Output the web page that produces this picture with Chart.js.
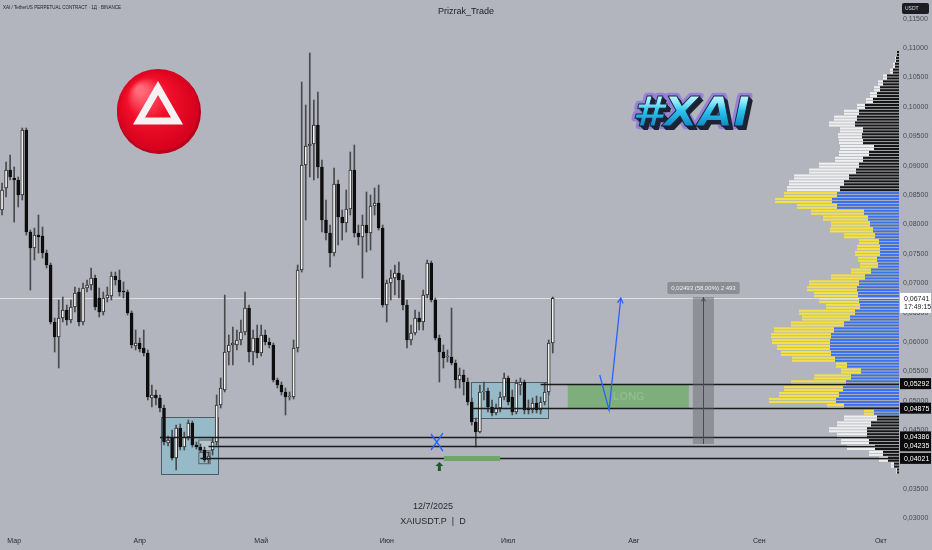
<!DOCTYPE html>
<html>
<head>
<meta charset="utf-8">
<script src="https://cdn.jsdelivr.net/npm/chart.js@4.4.1/dist/chart.umd.min.js"></script>
<style>
  html, body { margin: 0; padding: 0; background: #b2b5be; }
  #wrap { position: relative; width: 932px; height: 550px; }
</style>
</head>
<body>
<div id="wrap"><canvas id="chart" width="932" height="550"></canvas></div>
<script>
// daily candles XAI/USDT, 26 Feb -> 12 Jul 2025
const opens = [
  0.08245,0.08619,0.08925,0.08789,0.08755,0.08500,0.09605,0.07870,0.07598,0.07819,
  0.07802,0.07513,0.07309,0.06340,0.06085,0.06408,0.06544,0.06374,0.06595,0.06850,
  0.06340,0.06918,0.06969,0.07088,0.06748,0.06510,0.06748,0.06782,0.07122,0.07054,
  0.06867,0.06850,0.06493,0.05932,0.05983,0.05898,0.05813,0.05048,0.05099,0.05048,
  0.04878,0.04282,0.04367,0.04027,0.04537,0.04214,0.04384,0.04622,0.04248,0.04214,
  0.04163,0.03993,0.04163,0.04299,0.04929,0.05184,0.05830,0.05949,0.05949,0.06034,
  0.06170,0.06578,0.05830,0.06068,0.05813,0.06119,0.06000,0.05949,0.05354,0.05269,
  0.05150,0.05065,0.05065,0.05898,0.07224,0.09010,0.09333,0.09367,0.09690,0.08976,
  0.08075,0.07853,0.07513,0.08687,0.08126,0.08023,0.08262,0.08925,0.07853,0.07785,
  0.07989,0.07853,0.08313,0.08364,0.07938,0.06629,0.07003,0.07088,0.07173,0.07054,
  0.06629,0.06034,0.06153,0.06408,0.06340,0.06799,0.07343,0.06714,0.06068,0.05830,
  0.05745,0.05745,0.05643,0.05354,0.05439,0.05320,0.04980,0.04639,0.04469,0.05150,
  0.05167,0.04895,0.04793,0.04878,0.05065,0.05388,0.05065,0.04810,0.05269,0.05320,
  0.04878,0.04844,0.04963,0.04844,0.04980,0.05150,0.05983
];
const closes = [
  0.08585,0.08925,0.08806,0.08755,0.08500,0.09605,0.07870,0.07598,0.07819,0.07785,
  0.07513,0.07309,0.06340,0.06085,0.06408,0.06544,0.06374,0.06595,0.06833,0.06340,
  0.06918,0.06969,0.07088,0.06595,0.06510,0.06748,0.06799,0.07122,0.07054,0.06850,
  0.06850,0.06493,0.05949,0.05983,0.05881,0.05813,0.05065,0.05099,0.05048,0.04878,
  0.04299,0.04333,0.04027,0.04537,0.04214,0.04384,0.04622,0.04248,0.04214,0.04163,
  0.03993,0.04061,0.04299,0.04929,0.05218,0.05830,0.05949,0.05983,0.06034,0.06170,
  0.06578,0.05830,0.06068,0.05813,0.06119,0.06000,0.05949,0.05354,0.05269,0.05150,
  0.05065,0.05082,0.05898,0.07224,0.09010,0.09333,0.09367,0.09690,0.08976,0.08075,
  0.07853,0.07513,0.08687,0.08126,0.08023,0.08262,0.08925,0.07853,0.07785,0.07989,
  0.07853,0.08313,0.08364,0.07938,0.06629,0.07003,0.07088,0.07173,0.07054,0.06629,
  0.06034,0.06153,0.06408,0.06340,0.06799,0.07343,0.06714,0.06068,0.05830,0.05728,
  0.05762,0.05643,0.05354,0.05439,0.05320,0.04980,0.04639,0.04469,0.05150,0.05167,
  0.04895,0.04793,0.04878,0.05065,0.05388,0.04980,0.04810,0.05303,0.05320,0.04844,
  0.04844,0.04963,0.04844,0.04980,0.05150,0.05983,0.06741
];
const highs = [
  0.08704,0.09061,0.09180,0.08976,0.08806,0.09639,0.09639,0.07904,0.07938,0.08160,
  0.07955,0.07564,0.07343,0.06408,0.06714,0.06765,0.06629,0.06714,0.06935,0.06918,
  0.07003,0.07054,0.07258,0.07139,0.06918,0.06850,0.06935,0.07190,0.07190,0.07224,
  0.07020,0.06884,0.06527,0.06204,0.06068,0.06204,0.05864,0.05269,0.05184,0.05099,
  0.04929,0.04401,0.04503,0.04588,0.04605,0.04469,0.04673,0.04656,0.04299,0.04265,
  0.04214,0.04129,0.04367,0.05100,0.05388,0.06799,0.06119,0.06255,0.06204,0.06374,
  0.06850,0.06629,0.06204,0.06289,0.06289,0.06204,0.06068,0.05983,0.05388,0.05320,
  0.05218,0.05150,0.06034,0.07309,0.10421,0.10030,0.10915,0.10115,0.10251,0.09095,
  0.08415,0.07989,0.08959,0.08755,0.08245,0.08585,0.09231,0.09350,0.07989,0.08160,
  0.08551,0.08500,0.08619,0.08670,0.07989,0.07054,0.07224,0.07309,0.07360,0.07139,
  0.06714,0.06289,0.06544,0.06510,0.06884,0.07394,0.07377,0.06748,0.06119,0.05949,
  0.05864,0.06578,0.05694,0.05558,0.05524,0.05388,0.05048,0.04708,0.05269,0.05320,
  0.05218,0.05014,0.04946,0.05150,0.05473,0.05422,0.05184,0.05354,0.05388,0.05354,
  0.05014,0.05048,0.05082,0.05065,0.05303,0.06034,0.06765
];
const lows = [
  0.08160,0.08466,0.08755,0.08040,0.08296,0.08415,0.07819,0.06884,0.07394,0.07513,
  0.07428,0.07258,0.06306,0.05830,0.05558,0.06340,0.06289,0.06323,0.06510,0.06272,
  0.06289,0.06850,0.06884,0.06544,0.06425,0.06459,0.06680,0.06714,0.06969,0.06782,
  0.06748,0.06459,0.05898,0.05864,0.05830,0.05762,0.05014,0.04895,0.04929,0.04810,
  0.04248,0.04231,0.03993,0.03823,0.04163,0.04163,0.04333,0.04214,0.04180,0.04129,
  0.03959,0.03942,0.04078,0.04248,0.04878,0.05150,0.05609,0.05609,0.05864,0.05949,
  0.06119,0.05660,0.05609,0.05728,0.05762,0.05949,0.05898,0.05320,0.05218,0.05099,
  0.04759,0.05014,0.05031,0.05830,0.07190,0.08075,0.08806,0.08755,0.08789,0.07870,
  0.07734,0.07275,0.07462,0.07649,0.07734,0.07870,0.08160,0.07785,0.07649,0.07088,
  0.07530,0.07564,0.08160,0.07904,0.06595,0.06340,0.06714,0.06799,0.06748,0.06544,
  0.05898,0.05949,0.06119,0.06204,0.06204,0.06748,0.06680,0.06034,0.05320,0.05558,
  0.05660,0.05609,0.05218,0.05218,0.05099,0.04929,0.04588,0.04214,0.04452,0.05014,
  0.04810,0.04742,0.04759,0.04810,0.05014,0.04929,0.04759,0.04776,0.05099,0.04776,
  0.04776,0.04793,0.04793,0.04776,0.04929,0.05099,0.05813
];

// visible range volume profile (rows of 0.001)
const profilePrices = [
  0.109,0.108,0.107,0.106,0.105,0.104,0.103,0.102,0.101,0.100,
  0.099,0.098,0.097,0.096,0.095,0.094,0.093,0.092,0.091,0.090,
  0.089,0.088,0.087,0.086,0.085,0.084,0.083,0.082,0.081,0.080,
  0.079,0.078,0.077,0.076,0.075,0.074,0.073,0.072,0.071,0.070,
  0.069,0.068,0.067,0.066,0.065,0.064,0.063,0.062,0.061,0.060,
  0.059,0.058,0.057,0.056,0.055,0.054,0.053,0.052,0.051,0.050,
  0.049,0.048,0.047,0.046,0.045,0.044,0.043,0.042,0.041,0.040,
  0.039,0.038
];
const profileUp = [
  2,3,4,6,12,16,19,22,26,34,
  40,42,44,36,37,36,25,30,36,40,
  43,50,55,59,62,67,62,35,31,29,
  26,24,20,19,19,22,21,28,34,40,
  42,41,40,39,44,49,55,65,68,69,
  69,68,64,52,38,48,53,56,60,63,
  55,25,22,28,32,32,30,24,16,11,
  5,2
];
const profileTotal = [
  2,4,6,9,16,21,25,29,33,42,
  55,65,70,59,61,60,59,60,64,80,
  90,105,110,112,115,124,102,88,76,68,
  69,55,40,42,44,41,39,48,68,90,
  92,85,80,73,100,97,108,125,128,127,
  122,118,107,63,58,85,108,115,120,130,
  72,35,55,62,70,62,58,52,30,20,
  8,3
];
const valueArea = [0.0476, 0.0856];

const monthNames = { '03': 'Мар', '04': 'Апр', '05': 'Май', '06': 'Июн', '07': 'Июл', '08': 'Авг', '09': 'Сен', '10': 'Окт' };
const yTicks = [0.030,0.035,0.040,0.045,0.050,0.055,0.060,0.065,0.070,0.075,0.080,0.085,0.090,0.095,0.100,0.105,0.110,0.115];
const lastPrice = 0.06741;

// drawings (x in day index from 26 Feb, y in price)
const levelPrices = [0.05292, 0.04875, 0.04386, 0.04235, 0.04021];
const levelStart = [133, 116, 39, 51, 49];
const rangeBoxes = [
  { from: 39.2, to: 53.3, top: 0.04724, bottom: 0.03755 },
  { from: 115.8, to: 134.8, top: 0.05320, bottom: 0.04707 }
];
const longZone = { from: 139.7, to: 169.6, top: 0.05280, bottom: 0.04870 };
const measure = { from: 170.6, to: 175.8, top: 0.06765, bottom: 0.04265, text: '0,02493 (58,00%) 2 493' };
const targetBar = { from: 109.1, to: 123.0, top: 0.04061, bottom: 0.03976 };
const pathPoints = [[147.6, 0.05439], [149.9, 0.04844], [152.8, 0.06748]];
const crossMark = [107.4, 0.04299];
const upArrow = [108.0, 0.03959];

const days = [];
for (let i = 0; i < 222; i++) {
  days.push(new Date(Date.UTC(2025, 1, 26 + i)).toISOString().slice(0, 10));
}

const upCandle = closes.map((c, i) => c >= opens[i]);
const fmt = v => v.toFixed(5).replace('.', ',');

function arrowHead(ctx, x1, y1, x2, y2, size) {
  const a = Math.atan2(y2 - y1, x2 - x1);
  ctx.beginPath();
  ctx.moveTo(x2 - size * Math.cos(a - 0.5), y2 - size * Math.sin(a - 0.5));
  ctx.lineTo(x2, y2);
  ctx.lineTo(x2 - size * Math.cos(a + 0.5), y2 - size * Math.sin(a + 0.5));
  ctx.stroke();
}

const drawings = {
  id: 'drawings',
  beforeDraw(chart) {
    const ctx = chart.ctx;
    ctx.save();
    ctx.fillStyle = '#b2b5be';
    ctx.fillRect(0, 0, chart.width, chart.height);
    ctx.restore();
  },
  beforeDatasetsDraw(chart) {
    const { ctx, chartArea, scales: { x, y } } = chart;
    ctx.save();
    // volume profile, each row split in two thin stripes
    profilePrices.forEach((p, i) => {
      const top = y.getPixelForValue(p + 0.0005);
      const bot = y.getPixelForValue(p - 0.0005);
      const half = (bot - top) / 2;
      const inVA = p >= valueArea[0] && p <= valueArea[1];
      const r = chartArea.right;
      for (let k = 0; k < 2; k++) {
        const t = top + k * half;
        ctx.fillStyle = inVA ? '#f4e142' : '#efefef';
        ctx.fillRect(r - profileTotal[i], t, profileTotal[i], half - 0.8);
        ctx.fillStyle = inVA ? '#3c70f0' : '#151515';
        ctx.fillRect(r - profileUp[i], t, profileUp[i], half - 0.8);
      }
    });
    // last price line
    const yl = Math.round(y.getPixelForValue(lastPrice)) + 0.5;
    ctx.strokeStyle = 'rgba(232,234,238,0.8)';
    ctx.lineWidth = 1;
    ctx.beginPath(); ctx.moveTo(0, yl); ctx.lineTo(chartArea.right, yl); ctx.stroke();
    // range boxes
    rangeBoxes.forEach(b => {
      const x1 = x.getPixelForValue(b.from), x2 = x.getPixelForValue(b.to);
      const y1 = y.getPixelForValue(b.top), y2 = y.getPixelForValue(b.bottom);
      ctx.fillStyle = 'rgba(118,192,212,0.45)';
      ctx.fillRect(x1, y1, x2 - x1, y2 - y1);
      ctx.strokeStyle = '#4d5d63';
      ctx.strokeRect(Math.round(x1) + 0.5, Math.round(y1) + 0.5, Math.round(x2 - x1), Math.round(y2 - y1));
    });
    // small boxes at the first low
    ctx.fillStyle = 'rgba(205,206,210,0.6)';
    ctx.strokeStyle = '#5a6065';
    const sx1 = x.getPixelForValue(48.6), sx2 = x.getPixelForValue(51.9);
    const sy1 = y.getPixelForValue(0.04333), sy2 = y.getPixelForValue(0.04150);
    ctx.fillRect(sx1, sy1, sx2 - sx1, sy2 - sy1);
    ctx.strokeRect(sx1, sy1, sx2 - sx1, sy2 - sy1);
    const ty1 = y.getPixelForValue(0.04120), ty2 = y.getPixelForValue(0.03930);
    ctx.strokeRect(sx1, ty1, sx2 - sx1 - 2, ty2 - ty1);
    ctx.restore();
  },
  afterDatasetsDraw(chart) {
    const { ctx, chartArea, scales: { x, y } } = chart;
    ctx.save();
    // LONG zone
    {
      const x1 = x.getPixelForValue(longZone.from), x2 = x.getPixelForValue(longZone.to);
      const y1 = y.getPixelForValue(longZone.top), y2 = y.getPixelForValue(longZone.bottom);
      ctx.fillStyle = '#7eae7c';
      ctx.fillRect(x1, y1, x2 - x1, y2 - y1);
      ctx.fillStyle = '#8dbf89';
      ctx.font = 'bold 11px "Liberation Sans", Arial';
      ctx.textAlign = 'center'; ctx.textBaseline = 'middle';
      ctx.fillText('LONG', x1 + 61, (y1 + y2) / 2 + 1);
    }
    // horizontal levels
    ctx.strokeStyle = '#1a1a1a';
    ctx.lineWidth = 1.3;
    levelPrices.forEach((p, i) => {
      const yy = Math.round(y.getPixelForValue(p)) + 0.5;
      ctx.beginPath();
      ctx.moveTo(x.getPixelForValue(levelStart[i]), yy);
      ctx.lineTo(chartArea.right, yy);
      ctx.stroke();
    });
    // target bar & markers
    {
      const x1 = x.getPixelForValue(targetBar.from), x2 = x.getPixelForValue(targetBar.to);
      const y1 = y.getPixelForValue(targetBar.top), y2 = y.getPixelForValue(targetBar.bottom);
      ctx.fillStyle = '#6ea868';
      ctx.fillRect(x1, y1, x2 - x1, y2 - y1);
    }
    {
      const cx = x.getPixelForValue(crossMark[0]), cy = y.getPixelForValue(crossMark[1]);
      ctx.strokeStyle = '#2962ff'; ctx.lineWidth = 1.4;
      ctx.beginPath();
      ctx.moveTo(cx - 6, cy - 8); ctx.quadraticCurveTo(cx, cy, cx + 6, cy + 9);
      ctx.moveTo(cx + 6, cy - 9); ctx.quadraticCurveTo(cx, cy, cx - 6, cy + 8);
      ctx.stroke();
    }
    {
      const ax = x.getPixelForValue(upArrow[0]), ay = y.getPixelForValue(upArrow[1]);
      ctx.fillStyle = '#1f5a2c';
      ctx.beginPath();
      ctx.moveTo(ax, ay); ctx.lineTo(ax + 4, ay + 4); ctx.lineTo(ax + 1.5, ay + 4);
      ctx.lineTo(ax + 1.5, ay + 9); ctx.lineTo(ax - 1.5, ay + 9); ctx.lineTo(ax - 1.5, ay + 4);
      ctx.lineTo(ax - 4, ay + 4); ctx.closePath(); ctx.fill();
    }
    // projected path
    {
      const pts = pathPoints.map(p => [x.getPixelForValue(p[0]), y.getPixelForValue(p[1])]);
      ctx.strokeStyle = '#2962ff'; ctx.lineWidth = 1.3;
      ctx.beginPath();
      ctx.moveTo(pts[0][0], pts[0][1]);
      pts.slice(1).forEach(p => ctx.lineTo(p[0], p[1]));
      ctx.stroke();
      arrowHead(ctx, pts[1][0], pts[1][1], pts[2][0], pts[2][1], 6);
    }
    // measure tool
    {
      const x1 = x.getPixelForValue(measure.from), x2 = x.getPixelForValue(measure.to);
      const y1 = y.getPixelForValue(measure.top), y2 = y.getPixelForValue(measure.bottom);
      ctx.fillStyle = 'rgba(98,99,105,0.45)';
      ctx.fillRect(x1, y1, x2 - x1, y2 - y1);
      const mx = Math.round((x1 + x2) / 2) + 0.5;
      ctx.strokeStyle = '#4a4b50'; ctx.lineWidth = 1;
      ctx.beginPath(); ctx.moveTo(mx, y1); ctx.lineTo(mx, y2); ctx.stroke();
      arrowHead(ctx, mx, y1 + 10, mx, y1 + 1, 4);
      ctx.font = '6px "Liberation Sans", Arial';
      const tw = ctx.measureText(measure.text).width + 8;
      ctx.fillStyle = '#8d8e94';
      ctx.beginPath(); ctx.roundRect(mx - tw / 2, y1 - 15, tw, 12, 2); ctx.fill();
      ctx.fillStyle = '#f0f0f0';
      ctx.textAlign = 'center'; ctx.textBaseline = 'middle';
      ctx.fillText(measure.text, mx, y1 - 9);
    }
    ctx.restore();
  },
  afterDraw(chart) {
    const { ctx, chartArea, scales: { y } } = chart;
    ctx.save();
    // price labels on the axis
    ctx.font = '7px "Liberation Sans", Arial';
    ctx.textBaseline = 'middle'; ctx.textAlign = 'left';
    levelPrices.forEach(p => {
      const yy = y.getPixelForValue(p);
      ctx.fillStyle = '#0b0b0b';
      ctx.fillRect(chartArea.right + 1, yy - 5.5, 31, 11);
      ctx.fillStyle = '#ffffff';
      ctx.fillText(fmt(p), chartArea.right + 5, yy + 0.5);
    });
    {
      const yy = y.getPixelForValue(lastPrice);
      ctx.fillStyle = '#ffffff';
      ctx.fillRect(chartArea.right + 1, yy - 5.5, 31, 20);
      ctx.fillStyle = '#222';
      ctx.fillText(fmt(lastPrice), chartArea.right + 5, yy + 0.5);
      ctx.fillText('17:49:15', chartArea.right + 5, yy + 8.5);
    }
    // currency badge
    ctx.fillStyle = '#1c1d22';
    ctx.beginPath(); ctx.roundRect(902, 3, 27, 11, 2); ctx.fill();
    ctx.fillStyle = '#dddddd'; ctx.font = '5px "Liberation Sans", Arial';
    ctx.fillText('USDT', 905, 8.5);
    // headers
    ctx.fillStyle = '#1e1e22';
    ctx.font = '5.5px "Liberation Sans", Arial';
    {
      const head = 'XAI / TetherUS PERPETUAL CONTRACT · 1Д · BINANCE';
      const hw = ctx.measureText(head).width;
      ctx.save();
      ctx.translate(3, 7);
      ctx.scale(118 / hw, 1);
      ctx.fillText(head, 0, 0);
      ctx.restore();
    }
    ctx.font = '9px "Liberation Sans", Arial';
    ctx.textAlign = 'center';
    ctx.fillText('Prizrak_Trade', 466, 12);
    ctx.fillStyle = '#2a2a2e';
    ctx.font = '9px "Liberation Sans", Arial';
    ctx.fillText('12/7/2025', 433, 507);
    ctx.fillText('XAIUSDT.P  |  D', 433, 522);
    // round logo
    {
      const cx = 158, cy = 110, r = 42;
      ctx.fillStyle = '#b8001a';
      ctx.beginPath(); ctx.arc(cx + 1, cy + 2, r, 0, Math.PI * 2); ctx.fill();
      const g = ctx.createRadialGradient(cx - 18, cy - 20, 4, cx, cy, r);
      g.addColorStop(0, '#ff6b7a');
      g.addColorStop(0.45, '#f2102a');
      g.addColorStop(1, '#d3001d');
      ctx.fillStyle = g;
      ctx.beginPath(); ctx.arc(cx, cy, r - 1, 0, Math.PI * 2); ctx.fill();
      ctx.strokeStyle = '#f5f2f4'; ctx.lineWidth = 7; ctx.lineJoin = 'miter';
      ctx.beginPath();
      ctx.moveTo(cx, cy - 22); ctx.lineTo(cx + 19, cy + 11); ctx.lineTo(cx - 19, cy + 11); ctx.closePath();
      ctx.stroke();
    }
    // #XAI title
    {
      const txt = '#XAI';
      ctx.font = 'italic bold 46px "DejaVu Sans", sans-serif';
      const w = ctx.measureText(txt).width;
      ctx.save();
      ctx.translate(632, 126);
      ctx.scale(118 / w, 0.9);
      ctx.textAlign = 'left'; ctx.textBaseline = 'alphabetic';
      ctx.lineJoin = 'round';
      ctx.strokeStyle = 'rgba(140,112,222,0.75)'; ctx.lineWidth = 7;
      ctx.strokeText(txt, 0, 0);
      ctx.fillStyle = '#1b2434';
      for (let k = 1; k <= 4; k++) ctx.fillText(txt, k, k);
      const g = ctx.createLinearGradient(0, -38, 0, 0);
      g.addColorStop(0, '#dffcff');
      g.addColorStop(0.3, '#8ee9ff');
      g.addColorStop(0.55, '#2cc6ee');
      g.addColorStop(1, '#1188c8');
      ctx.fillStyle = g;
      ctx.fillText(txt, 0, 0);
      ctx.strokeStyle = '#1b2434'; ctx.lineWidth = 1;
      ctx.strokeText(txt, 0, 0);
      ctx.restore();
    }
    ctx.restore();
  }
};

new Chart(document.getElementById('chart'), {
  type: 'bar',
  data: {
    labels: days,
    datasets: [
      {
        label: 'bodies',
        data: opens.map((o, i) => [o, closes[i]]),
        backgroundColor: upCandle.map(u => u ? '#f4f4f4' : '#0e0e0e'),
        borderColor: upCandle.map(u => u ? '#2b2b2b' : '#0e0e0e'),
        borderWidth: 1,
        borderSkipped: false,
        barThickness: 3,
        grouped: false,
        order: 0
      },
      {
        label: 'wicks',
        data: lows.map((l, i) => [l, highs[i]]),
        backgroundColor: '#4a4a4e',
        borderWidth: 0,
        barThickness: 1,
        grouped: false,
        order: 1
      }
    ]
  },
  options: {
    responsive: false,
    animation: false,
    devicePixelRatio: 1,
    layout: { padding: 0 },
    plugins: { legend: { display: false }, tooltip: { enabled: false } },
    scales: {
      x: {
        type: 'category',
        grid: { display: false, drawTicks: false },
        border: { display: false },
        ticks: {
          autoSkip: false,
          maxRotation: 0,
          padding: 5,
          color: '#2a2a2e',
          font: { size: 7, family: '"Liberation Sans", Arial' },
          callback(value) {
            const d = this.getLabelForValue(value);
            return d.endsWith('-01') ? monthNames[d.slice(5, 7)] : '';
          }
        },
        afterFit(s) { s.height = 18; s.paddingLeft = 0; s.paddingRight = 0; }
      },
      y: {
        position: 'right',
        min: 0.02769,
        max: 0.11816,
        grid: { display: false, drawTicks: false },
        border: { display: false },
        ticks: {
          padding: 4,
          color: '#4a4a50',
          font: { size: 7, family: '"Liberation Sans", Arial' },
          callback: v => fmt(v)
        },
        afterBuildTicks(s) { s.ticks = yTicks.map(v => ({ value: v })); },
        afterFit(s) { s.width = 33; s.paddingTop = 0; s.paddingBottom = 0; }
      }
    }
  },
  plugins: [drawings]
});
</script>
</body>
</html>
